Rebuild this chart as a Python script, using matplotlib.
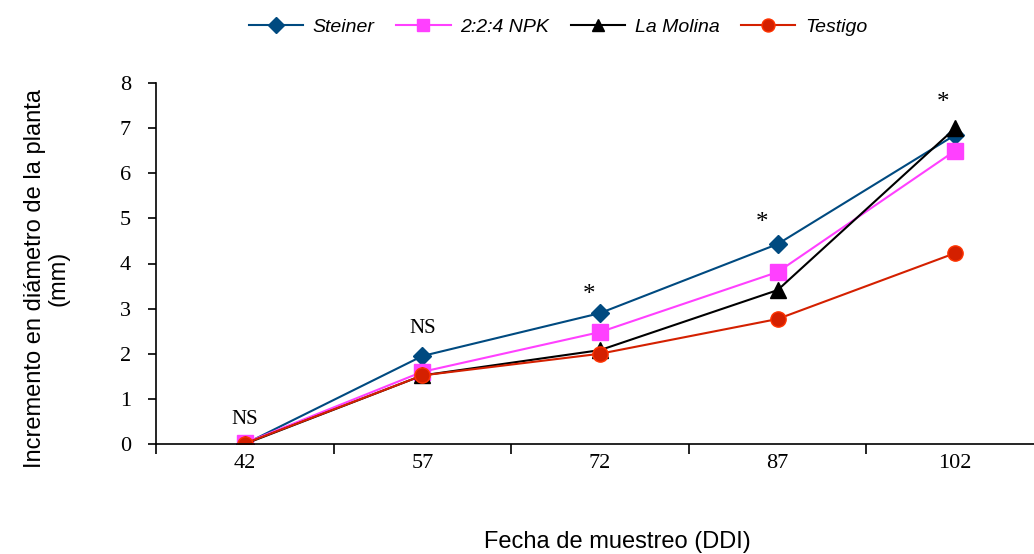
import numpy as np
import matplotlib.pyplot as plt

# fechas de muestreo (DDI)
fechas = ['42', '57', '72', '87', '102']
steiner = [0.0, 1.95, 2.9, 4.43, 6.85]
npk = [0.02, 1.6, 2.48, 3.81, 6.5]
la_molina = [0.0, 1.52, 2.08, 3.41, 7.0]
testigo = [0.01, 1.52, 2.0, 2.77, 4.23]
signif = ['NS', 'NS', '*', '*', '*']
signif_y = [0.55, 2.55, 3.3, 4.9, 7.55]
signif_dx = [0, 0, -0.06, -0.09, -0.07]

fig = plt.figure(figsize=(10.34, 5.54), dpi=100)
ax = fig.add_axes([156 / 1034, 110 / 554, 888 / 1034, 361 / 554])

x = np.arange(len(fechas))
ax.plot(x, steiner, '-', color='#004a80', marker='D', markersize=9, lw=1.5, label='Steiner')
ax.plot(x, npk, '-', color='#ff40ff', marker='s', markersize=11, lw=1.5, label='2:2:4 NPK')
ax.plot(x, la_molina, '-', color='black', marker='^', markersize=11, lw=1.5, label='La Molina')
ax.plot(x, testigo, '-', color='#d42000', marker='o', markersize=11, markeredgecolor='#ff3300',
        lw=1.5, label='Testigo')

for i, s in enumerate(signif):
    fs = 15 if s == 'NS' else 18
    ax.text(x[i] + signif_dx[i], signif_y[i], s, ha='center', va='center', fontsize=fs,
            family='Liberation Serif')

ax.set_xlim(-0.5, 4.5)
ax.set_ylim(0, 8)
ax.set_xticks(x)
ax.set_xticklabels(fechas, family='Liberation Serif', fontsize=16)
ax.set_xticks(np.arange(-0.5, 5, 1), minor=True)
ax.tick_params(axis='x', which='major', length=0, pad=7)
ax.tick_params(axis='x', which='minor', length=7, width=1.2)
ax.set_yticks(range(0, 9))
ax.set_yticklabels([str(v) for v in range(0, 9)], family='Liberation Serif', fontsize=16)
ax.tick_params(axis='y', length=6, width=1.2, pad=12)
for side in ['top', 'right']:
    ax.spines[side].set_visible(False)
for side in ['left', 'bottom']:
    ax.spines[side].set_linewidth(1.2)

fig.text(617 / 1034, 1 - 542 / 554, 'Fecha de muestreo (DDI)', ha='center', va='center',
         fontsize=17, family='Liberation Sans')
fig.text(47 / 1034, 1 - 278 / 554, 'Incremento en diámetro de la planta\n(mm)',
         ha='center', va='center', rotation=90, fontsize=17, family='Liberation Sans', linespacing=1.1)

leg = fig.legend(loc='center', bbox_to_anchor=(558 / 1034, 1 - 27 / 554), ncol=4, frameon=False,
                 prop={'family': 'Liberation Sans', 'style': 'italic', 'size': 14},
                 handlelength=2.8, columnspacing=1.1, handletextpad=0.5, markerscale=0.85)

fig.savefig('out.png', dpi=100)
